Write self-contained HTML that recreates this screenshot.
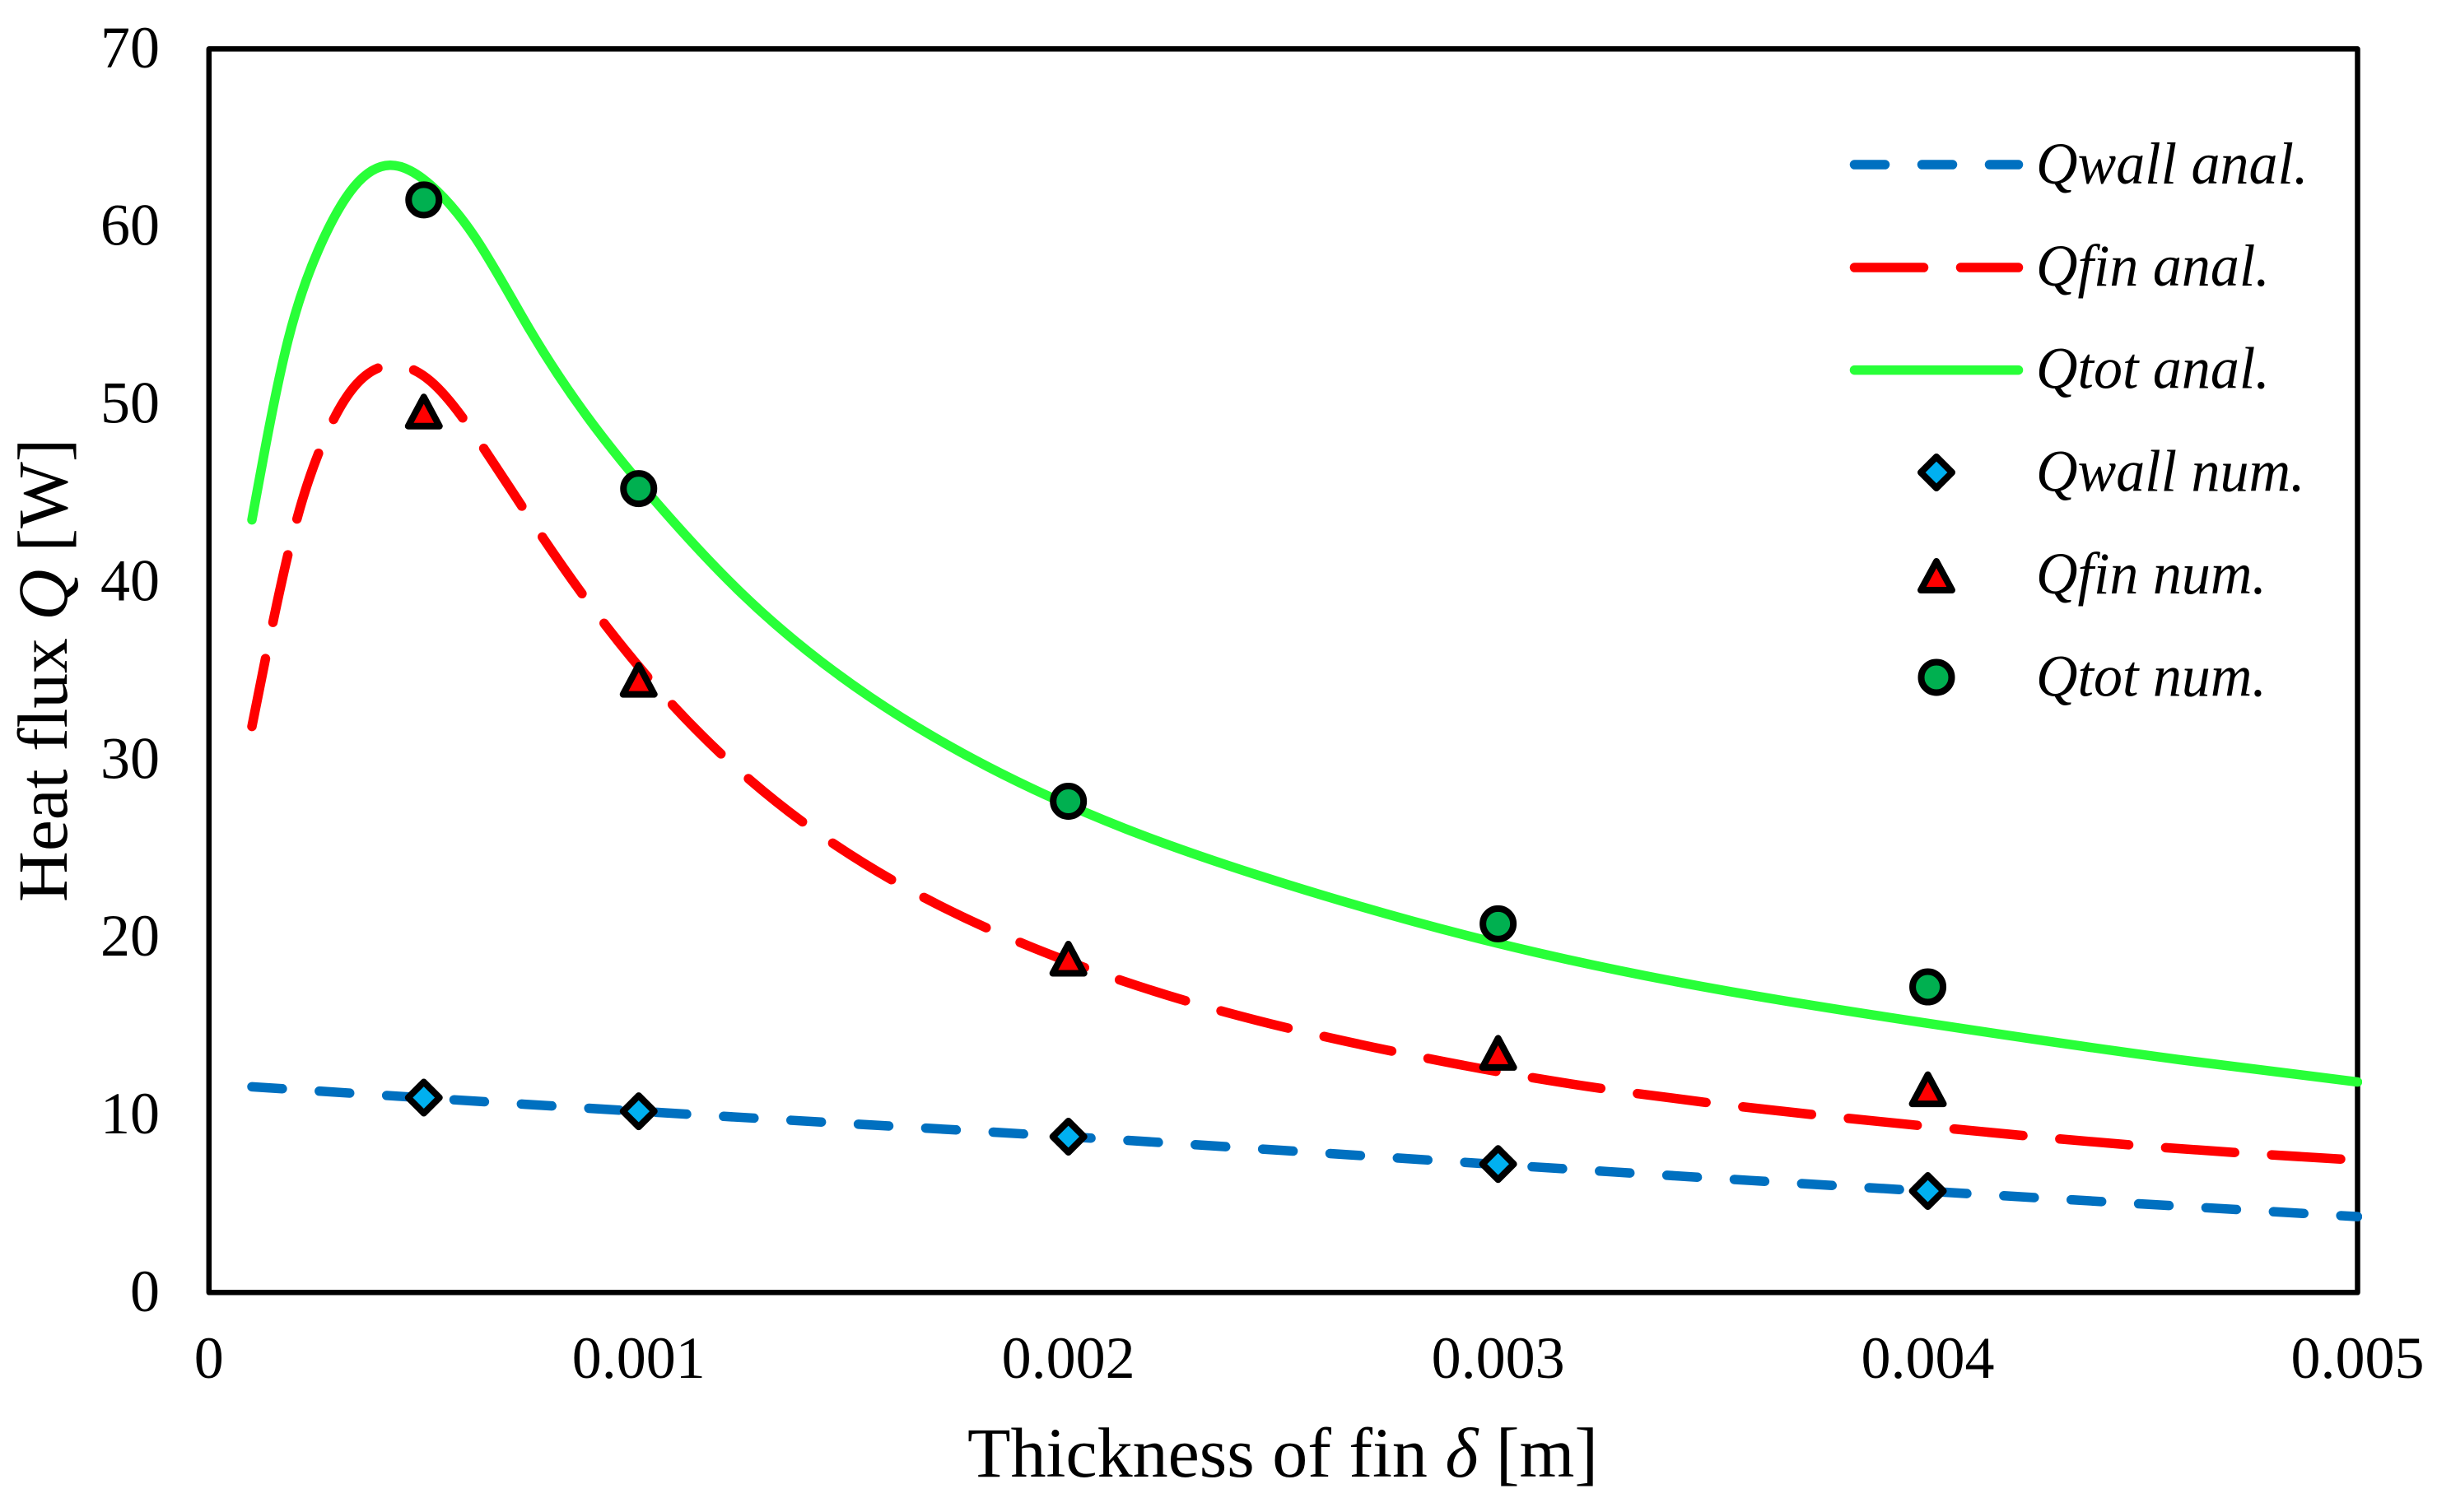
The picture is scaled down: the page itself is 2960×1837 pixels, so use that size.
<!DOCTYPE html>
<html lang="en">
<head>
<meta charset="utf-8">
<title>Heat flux vs fin thickness</title>
<style>
html,body{margin:0;padding:0;background:#fff;}
body{width:2960px;height:1837px;overflow:hidden;}
svg{display:block;}
text{font-family:"Liberation Serif",serif;fill:#000;}
</style>
</head>
<body>
<svg id="chart" xmlns="http://www.w3.org/2000/svg" width="2960" height="1837" viewBox="0 0 2960 1837">
  <defs>
    <clipPath id="plot-clip"><rect x="0" y="0" width="2869" height="1837"/></clipPath>
  </defs>
  <rect x="253.8" y="59.4" width="2609.7" height="1510.9" fill="#fff" stroke="#000" stroke-width="6.5" stroke-linejoin="round"/>
  <g id="y-ticks"></g>
  <g id="x-ticks"></g>
  <g id="series" clip-path="url(#plot-clip)"></g>
  <g id="markers"></g>
  <text x="1175" y="1794" font-size="86">Thickness of fin <tspan font-style="italic">δ</tspan> [m]</text>
  <text transform="translate(81 1096) rotate(-90)" font-size="85.6">Heat flux <tspan font-style="italic">Q</tspan> [W]</text>
  <g>
    <line x1="2252.5" x2="2451.5" y1="200" y2="200" stroke="#0070C0" stroke-width="11.5" stroke-linecap="round" stroke-dasharray="37 45"/>
    <line x1="2252.5" x2="2451.5" y1="325" y2="325" stroke="#FF0000" stroke-width="11.5" stroke-linecap="round" stroke-dasharray="84 45"/>
    <line x1="2252.5" x2="2451.5" y1="449.6" y2="449.6" stroke="#28FF38" stroke-width="11.5" stroke-linecap="round"/>
    <polygon points="2352,555 2371,574 2352,593 2333,574" fill="#00B0F0" stroke="#000" stroke-width="8" stroke-linejoin="round"/>
    <polygon points="2352,682 2371,717 2333,717" fill="#FF0000" stroke="#000" stroke-width="8" stroke-linejoin="round"/>
    <circle cx="2352" cy="823" r="18.5" fill="#00B050" stroke="#000" stroke-width="8"/>
    <g font-size="72" font-style="italic" transform="translate(2473 0) scale(0.972 1)">
      <text x="0" y="223">Qwall anal.</text>
      <text x="0" y="347">Qfin anal.</text>
      <text x="0" y="471.5">Qtot anal.</text>
      <text x="0" y="596.5">Qwall num.</text>
      <text x="0" y="721">Qfin num.</text>
      <text x="0" y="845.5">Qtot num.</text>
    </g>
  </g>
</svg>
<script>
const yTickValues = [0, 10, 20, 30, 40, 50, 60, 70];
const xTickValues = [0, 0.001, 0.002, 0.003, 0.004, 0.005];
const xTickLabels = ["0", "0.001", "0.002", "0.003", "0.004", "0.005"];

const qwallAnalX = [0.0001, 0.001, 0.002, 0.003, 0.004, 0.005];
const qwallAnalY = [11.58, 10.2, 8.77, 7.2, 5.7, 4.27];

const qfinAnalX = [0.0001, 0.000149, 0.000205, 0.000255, 0.000338, 0.000433, 0.000516, 0.000641, 0.000778, 0.000922, 0.001082, 0.001259, 0.001456, 0.001669, 0.001895, 0.002126, 0.002363, 0.00276, 0.00308, 0.0035, 0.004, 0.0045, 0.005];
const qfinAnalY = [31.86, 37.73, 43.56, 47.24, 50.98, 52.2, 51.29, 47.46, 42.45, 37.59, 32.99, 28.85, 25.22, 22.17, 19.63, 17.54, 15.8, 13.55, 12.09, 10.65, 9.35, 8.25, 7.45];

const qtotAnalX = [0.0001, 0.000184, 0.000255, 0.000338, 0.000421, 0.000516, 0.000619, 0.000746, 0.0009, 0.001046, 0.001238, 0.001538, 0.001813, 0.002132, 0.002505, 0.003, 0.003537, 0.004, 0.004587, 0.005];
const qtotAnalY = [43.49, 53.6, 58.7, 62.25, 63.45, 62.33, 59.4, 54.22, 48.66, 44.34, 39.39, 33.53, 29.59, 26.11, 23.0, 19.65, 16.95, 15.15, 13.1, 11.85];

const numX = [0.0005, 0.001, 0.002, 0.003, 0.004];
const qwallNum = [10.97, 10.2, 8.77, 7.23, 5.71];
const qfinNum = [49.6, 34.5, 18.8, 13.5, 11.45];
const qtotNum = [61.5, 45.25, 27.65, 20.75, 17.2];

const SVG_NS = 'http://www.w3.org/2000/svg';
const plotLeft = 253.8, plotRight = 2863.5, plotBottom = 1570.3, plotTop = 59.4;
const xMax = 0.005, yMax = 70;
function sx(v) { return plotLeft + (v / xMax) * (plotRight - plotLeft); }
function sy(v) { return plotBottom - (v / yMax) * (plotBottom - plotTop); }

// Natural cubic spline through the data points, written as cubic Bezier segments.
function smoothPath(xs, ys) {
  const px = xs.map(sx), py = ys.map(sy), n = px.length;
  const h = [], c = [], r = [], m = new Array(n).fill(0);
  for (let i = 0; i < n - 1; i++) h.push(px[i + 1] - px[i]);
  c[0] = 0; r[0] = 0;
  for (let i = 1; i < n - 1; i++) {
    const w = 2 * (h[i - 1] + h[i]) - h[i - 1] * c[i - 1];
    c[i] = h[i] / w;
    const rhs = 6 * ((py[i + 1] - py[i]) / h[i] - (py[i] - py[i - 1]) / h[i - 1]);
    r[i] = (rhs - h[i - 1] * r[i - 1]) / w;
  }
  for (let i = n - 2; i > 0; i--) m[i] = r[i] - c[i] * m[i + 1];
  let d = 'M' + px[0].toFixed(2) + ' ' + py[0].toFixed(2);
  for (let i = 0; i < n - 1; i++) {
    const s = (py[i + 1] - py[i]) / h[i];
    const t0 = s - h[i] * (2 * m[i] + m[i + 1]) / 6;
    const t1 = s + h[i] * (m[i] + 2 * m[i + 1]) / 6;
    const k = h[i] / 3;
    d += ' C' + (px[i] + k).toFixed(2) + ' ' + (py[i] + t0 * k).toFixed(2) + ' ' +
      (px[i + 1] - k).toFixed(2) + ' ' + (py[i + 1] - t1 * k).toFixed(2) + ' ' +
      px[i + 1].toFixed(2) + ' ' + py[i + 1].toFixed(2);
  }
  return d;
}

const yTicksGroup = document.getElementById('y-ticks');
const xTicksGroup = document.getElementById('x-ticks');
const seriesGroup = document.getElementById('series');
const markersGroup = document.getElementById('markers');

yTickValues.forEach(function (v) {
  const t = document.createElementNS(SVG_NS, 'text');
  
  
  t.setAttribute('x', 194);
  t.setAttribute('y', sy(v) + 22.5);
  t.setAttribute('font-size', 72);
  t.setAttribute('text-anchor', 'end');
  t.textContent = String(v);
  yTicksGroup.appendChild(t);
});

xTickValues.forEach(function (v, i) {
  const t = document.createElementNS(SVG_NS, 'text');
  
  
  t.setAttribute('x', sx(v));
  t.setAttribute('y', 1674);
  t.setAttribute('font-size', 72);
  t.setAttribute('text-anchor', 'middle');
  t.textContent = xTickLabels[i];
  xTicksGroup.appendChild(t);
});

const qwallLine = document.createElementNS(SVG_NS, 'path');


qwallLine.setAttribute('d', smoothPath(qwallAnalX, qwallAnalY));
qwallLine.setAttribute('fill', 'none');
qwallLine.setAttribute('stroke', '#0070C0');
qwallLine.setAttribute('stroke-width', '11.5');
qwallLine.setAttribute('stroke-linecap', 'round');
qwallLine.setAttribute('stroke-dasharray', '37 45');
seriesGroup.appendChild(qwallLine);

const qfinLine = document.createElementNS(SVG_NS, 'path');


qfinLine.setAttribute('d', smoothPath(qfinAnalX, qfinAnalY));
qfinLine.setAttribute('fill', 'none');
qfinLine.setAttribute('stroke', '#FF0000');
qfinLine.setAttribute('stroke-width', '11.5');
qfinLine.setAttribute('stroke-linecap', 'round');
qfinLine.setAttribute('stroke-dasharray', '84 45');
seriesGroup.appendChild(qfinLine);

const qtotLine = document.createElementNS(SVG_NS, 'path');


qtotLine.setAttribute('d', smoothPath(qtotAnalX, qtotAnalY));
qtotLine.setAttribute('fill', 'none');
qtotLine.setAttribute('stroke', '#28FF38');
qtotLine.setAttribute('stroke-width', '11.5');
qtotLine.setAttribute('stroke-linecap', 'round');
seriesGroup.appendChild(qtotLine);

numX.forEach(function (xv, i) {
  const cx = sx(xv), dy = sy(qwallNum[i]);
  const diamond = document.createElementNS(SVG_NS, 'polygon');
  
  
  diamond.setAttribute('points', [cx, dy - 19, cx + 19, dy, cx, dy + 19, cx - 19, dy].join(' '));
  diamond.setAttribute('fill', '#00B0F0');
  diamond.setAttribute('stroke', '#000');
  diamond.setAttribute('stroke-width', '8');
  diamond.setAttribute('stroke-linejoin', 'round');
  markersGroup.appendChild(diamond);

  const ty = sy(qfinNum[i]);
  const triangle = document.createElementNS(SVG_NS, 'polygon');
  
  
  triangle.setAttribute('points', [cx, ty - 17.5, cx + 19, ty + 18, cx - 19, ty + 18].join(' '));
  triangle.setAttribute('fill', '#FF0000');
  triangle.setAttribute('stroke', '#000');
  triangle.setAttribute('stroke-width', '8');
  triangle.setAttribute('stroke-linejoin', 'round');
  markersGroup.appendChild(triangle);

  const circle = document.createElementNS(SVG_NS, 'circle');
  
  
  circle.setAttribute('cx', cx);
  circle.setAttribute('cy', sy(qtotNum[i]));
  circle.setAttribute('r', '18.5');
  circle.setAttribute('fill', '#00B050');
  circle.setAttribute('stroke', '#000');
  circle.setAttribute('stroke-width', '8');
  markersGroup.appendChild(circle);
});
</script>
</body>
</html>
